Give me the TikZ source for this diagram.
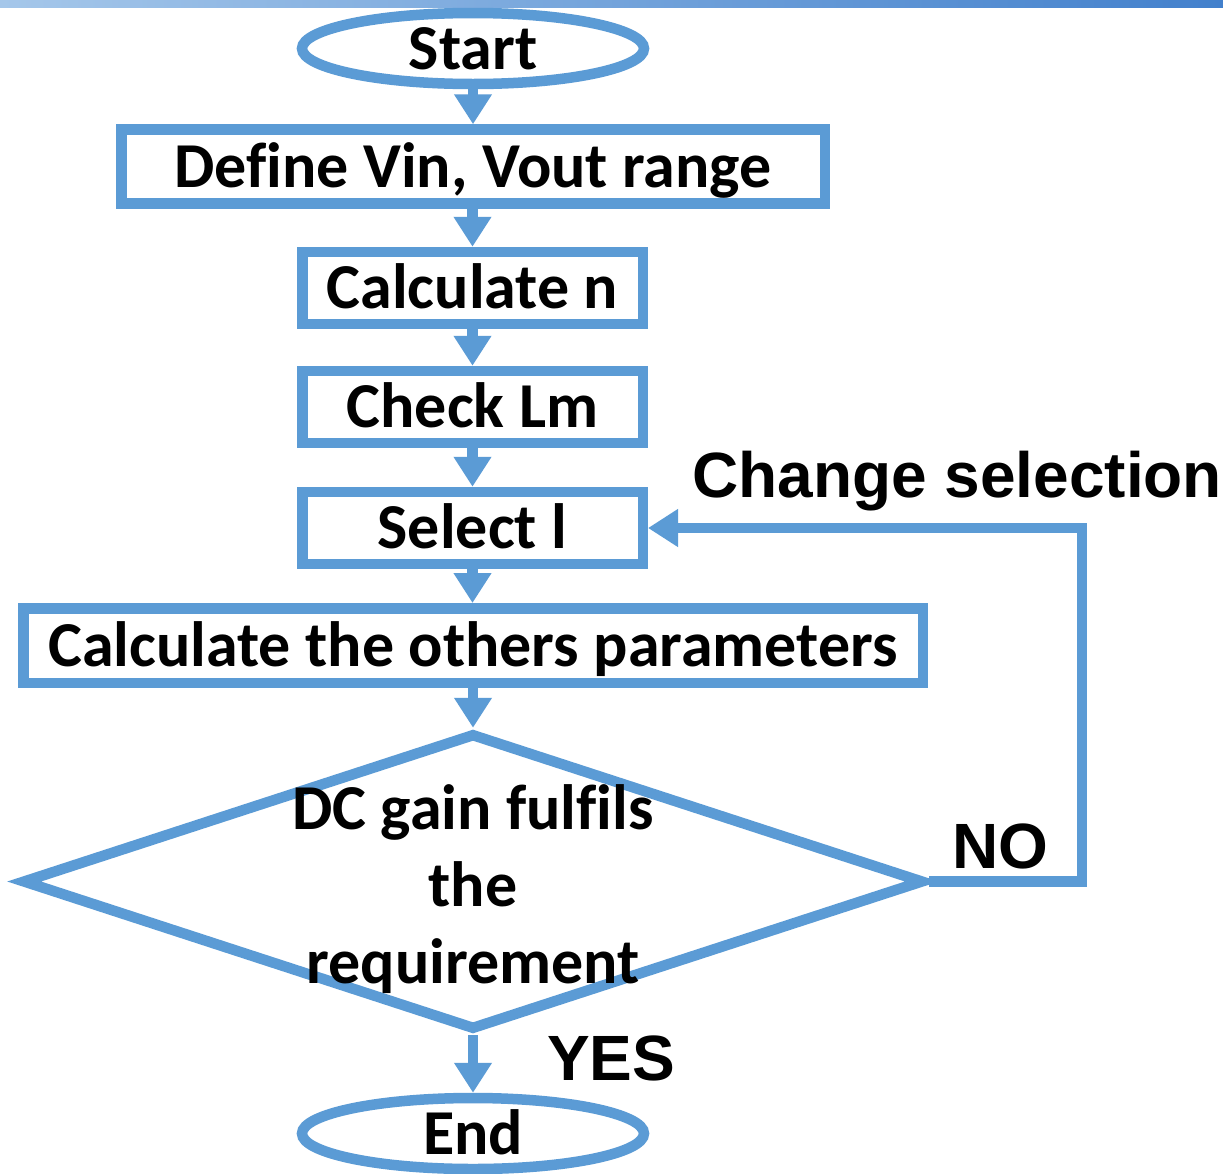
\documentclass[tikz,border=0pt]{standalone}
\usepackage{fontspec}
\setmainfont{Carlito}[Ligatures=NoCommon]
\newfontfamily\arialb{Liberation Sans}
\usetikzlibrary{shapes.geometric,arrows.meta}
\definecolor{flowblue}{RGB}{91,155,213}
\definecolor{barleft}{RGB}{165,199,234}
\definecolor{barright}{RGB}{66,128,204}
\tikzset{
  boxtext/.style={font=\fontsize{64}{77}\selectfont\bfseries, text height=41pt, text depth=0pt, inner sep=0pt},
  procbox/.style={boxtext, draw=flowblue, line width=10.5pt, rectangle},
  termbox/.style={boxtext, draw=flowblue, line width=10.5pt, ellipse, minimum width=342pt, minimum height=71pt},
  decbox/.style={draw=flowblue, line width=10.5pt, diamond, inner sep=0pt, minimum width=902pt, minimum height=297pt},
  flowarr/.style={draw=flowblue, line width=10.5pt, -{Triangle[width=36pt,length=30pt]}},
  sidelabel/.style={font=\arialb\fontsize{64}{76}\selectfont\bfseries, inner sep=0pt}
}
\begin{document}
\begin{tikzpicture}[x=1pt,y=-1pt]
\useasboundingbox (0,0) rectangle (1223,1173);
\fill[white] (0,0) rectangle (1223,1173);
\shade[left color=barleft, right color=barright] (0,0) rectangle (1223,7);

\node[termbox] (start) at (473,48.5) {Start};
\node[procbox, minimum width=703.5pt, minimum height=74pt] (define) at (473,166.5) {Define Vin, Vout range};
\node[procbox, minimum width=340.5pt, minimum height=72pt] (calcn) at (472.5,288) {Calculate n};
\node[procbox, minimum width=340.5pt, minimum height=72pt] (check) at (472.5,407) {Check Lm};
\node[procbox, minimum width=340.5pt, minimum height=72pt] (sel) at (472.5,528) {Select l};
\node[procbox, minimum width=899.5pt, minimum height=74.5pt] (others) at (473,645.5) {Calculate the others parameters};
\node[decbox] (dec) at (473,881.5) {};
\node[font=\fontsize{64}{77}\selectfont\bfseries, align=center, inner sep=0pt] (dectext) at (473,889) {DC gain fulfils\\the\\requirement};
\node[termbox] (end) at (473,1133.5) {End};

\coordinate (loopc) at (1082,528);

\node[sidelabel, anchor=base west] (chg) at (692,497) {Change selection};
\node[sidelabel, anchor=base west] (no) at (952,868) {NO};
\node[sidelabel, anchor=base west] (yes) at (547,1080) {YES};

\draw[flowarr] (start.south) -- (define.north);
\draw[flowarr] (define.south -| calcn.north) -- (calcn.north);
\draw[flowarr] (calcn.south) -- (check.north);
\draw[flowarr] (check.south) -- (sel.north);
\draw[flowarr] (sel.south) -- (sel.south |- others.north);
\draw[flowarr] (others.south) -- (dec.north);
\draw[flowarr] (dec.south) -- (end.north);
\draw[flowarr] (dec.east) -| (loopc) -- (sel.east);
\end{tikzpicture}
\end{document}
